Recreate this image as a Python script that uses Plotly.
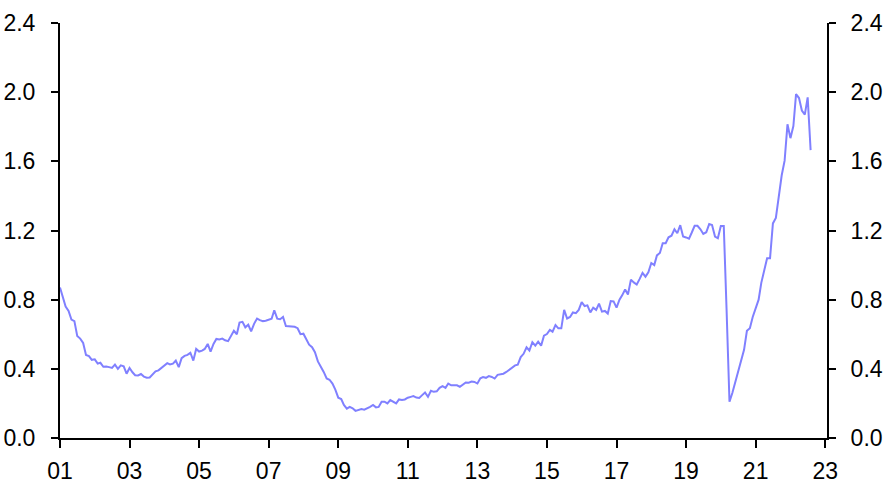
import pandas as pd
import plotly.graph_objects as go

# Monthly values, Jan 2001 - Aug 2022
y2001 = [0.87, 0.81, 0.76, 0.735, 0.685, 0.676, 0.59, 0.575, 0.55, 0.48, 0.474, 0.452]
y2002 = [0.455, 0.43, 0.435, 0.412, 0.414, 0.41, 0.405, 0.424, 0.40, 0.42, 0.414, 0.372]
y2003 = [0.405, 0.38, 0.363, 0.362, 0.37, 0.355, 0.349, 0.35, 0.37, 0.385, 0.391, 0.405]
y2004 = [0.414, 0.433, 0.425, 0.43, 0.448, 0.41, 0.462, 0.475, 0.481, 0.493, 0.448, 0.515]
y2005 = [0.50, 0.505, 0.515, 0.544, 0.50, 0.544, 0.573, 0.57, 0.575, 0.565, 0.56, 0.59]
y2006 = [0.62, 0.60, 0.668, 0.672, 0.64, 0.655, 0.617, 0.66, 0.691, 0.682, 0.676, 0.678]
y2007 = [0.683, 0.69, 0.739, 0.69, 0.687, 0.70, 0.648, 0.645, 0.645, 0.643, 0.635, 0.60]
y2008 = [0.603, 0.573, 0.54, 0.525, 0.496, 0.443, 0.415, 0.382, 0.344, 0.337, 0.315, 0.28]
y2009 = [0.233, 0.225, 0.191, 0.17, 0.18, 0.172, 0.157, 0.164, 0.167, 0.164, 0.17, 0.18]
y2010 = [0.191, 0.177, 0.18, 0.21, 0.21, 0.20, 0.219, 0.21, 0.20, 0.223, 0.22, 0.223]
y2011 = [0.233, 0.238, 0.242, 0.234, 0.232, 0.248, 0.263, 0.238, 0.273, 0.267, 0.27, 0.29]
y2012 = [0.30, 0.29, 0.315, 0.305, 0.305, 0.305, 0.296, 0.31, 0.321, 0.32, 0.326, 0.324]
y2013 = [0.315, 0.345, 0.352, 0.348, 0.358, 0.353, 0.344, 0.365, 0.367, 0.372, 0.382, 0.395]
y2014 = [0.405, 0.42, 0.424, 0.468, 0.487, 0.525, 0.506, 0.554, 0.534, 0.557, 0.534, 0.592]
y2015 = [0.601, 0.625, 0.615, 0.653, 0.634, 0.634, 0.741, 0.691, 0.70, 0.726, 0.722, 0.741]
y2016 = [0.786, 0.763, 0.767, 0.726, 0.754, 0.741, 0.777, 0.731, 0.735, 0.72, 0.792, 0.79]
y2017 = [0.754, 0.80, 0.825, 0.859, 0.83, 0.916, 0.90, 0.888, 0.92, 0.955, 0.933, 0.958]
y2018 = [1.012, 1.00, 1.056, 1.07, 1.126, 1.126, 1.161, 1.17, 1.207, 1.184, 1.231, 1.165]
y2019 = [1.16, 1.153, 1.187, 1.227, 1.227, 1.207, 1.18, 1.19, 1.237, 1.232, 1.165, 1.155]
y2020 = [1.226, 1.226, 0.75, 0.21, 0.26, 0.32, 0.38, 0.445, 0.51, 0.62, 0.635, 0.70]
y2021 = [0.75, 0.80, 0.897, 0.964, 1.04, 1.04, 1.241, 1.273, 1.394, 1.518, 1.604, 1.814]
y2022 = [1.734, 1.804, 1.989, 1.966, 1.894, 1.87, 1.97, 1.665]

values = (y2001 + y2002 + y2003 + y2004 + y2005 + y2006 + y2007 + y2008 + y2009
          + y2010 + y2011 + y2012 + y2013 + y2014 + y2015 + y2016 + y2017
          + y2018 + y2019 + y2020 + y2021 + y2022)
dates = pd.date_range("2001-01-01", periods=len(values), freq="MS")

y_ticks = [0.0, 0.4, 0.8, 1.2, 1.6, 2.0, 2.4]
y_tick_text = ["0.0", "0.4", "0.8", "1.2", "1.6", "2.0", "2.4"]

LINE_COLOR = "#8080ff"
FONT = dict(family="Liberation Sans, Arial, sans-serif", size=23, color="black")

fig = go.Figure()
fig.add_trace(go.Scatter(x=dates, y=values, mode="lines",
                         line=dict(color=LINE_COLOR, width=2),
                         showlegend=False, hoverinfo="skip"))
# invisible copy to anchor the right-hand axis
fig.add_trace(go.Scatter(x=dates, y=values, mode="lines", yaxis="y2",
                         line=dict(color="rgba(0,0,0,0)", width=0),
                         showlegend=False, hoverinfo="skip"))

axis_common = dict(showline=True, linecolor="black", linewidth=2, showgrid=False,
                   zeroline=False, ticks="outside", tickcolor="black", tickwidth=2,
                   tickfont=FONT, automargin=False)

fig.update_layout(
    width=886, height=491,
    margin=dict(l=60, r=59, t=23, b=53),
    plot_bgcolor="white", paper_bgcolor="white",
    xaxis=dict(**axis_common, type="date", range=["2001-01-01", "2023-01-20"],
               tick0="2001-01-01", dtick="M24", tickformat="%y", ticklen=8,
               ticklabelstandoff=3),
    yaxis=dict(**axis_common, range=[0, 2.4], tickvals=y_ticks, ticktext=y_tick_text,
               ticklen=7, ticklabelstandoff=11),
    yaxis2=dict(**axis_common, range=[0, 2.4], tickvals=y_ticks, ticktext=y_tick_text,
                overlaying="y", side="right", ticklen=7, ticklabelstandoff=10),
)

# remove the default page margin so the figure fills the window exactly
fig.write_html("out.html",
               config={"displayModeBar": False, "staticPlot": True},
               post_script="document.body.style.margin='0px';document.body.style.overflow='hidden';")
